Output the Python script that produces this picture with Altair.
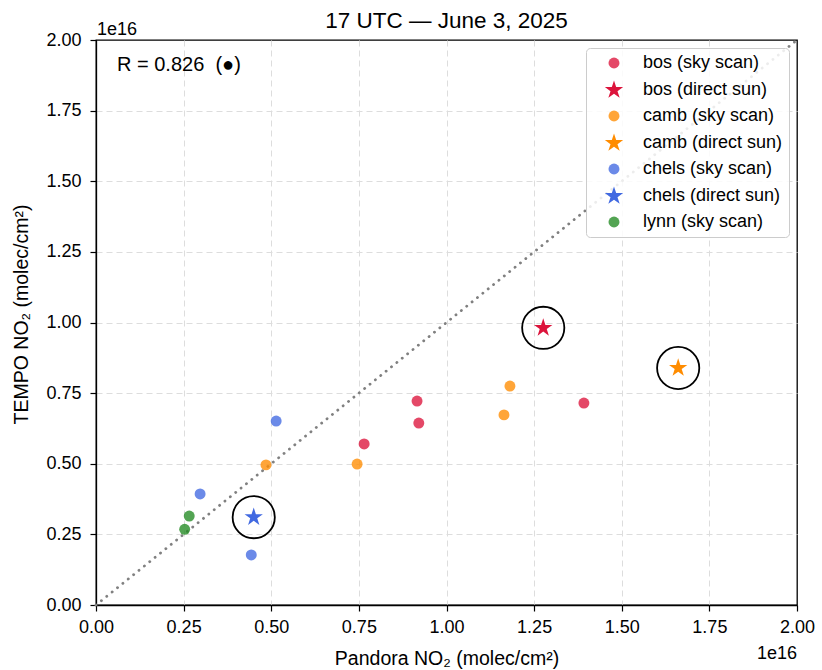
import altair as alt
import pandas as pd

SCALE = 1e16

STAR = ("M0,-1L0.2245,-0.309L0.9511,-0.309L0.3633,0.118L0.5878,0.809L0,0.382"
        "L-0.5878,0.809L-0.3633,0.118L-0.9511,-0.309L-0.2245,-0.309Z")

labels = ["bos (sky scan)", "bos (direct sun)", "camb (sky scan)", "camb (direct sun)",
          "chels (sky scan)", "chels (direct sun)", "lynn (sky scan)"]
colors = ["#DC143C", "#DC143C", "#FF8C00", "#FF8C00", "#4169E1", "#4169E1", "#228B22"]
shapes = ["circle", STAR, "circle", STAR, "circle", STAR, "circle"]
sizes = [120, 370, 120, 370, 120, 370, 120]
opacities = [0.78, 1.0, 0.78, 1.0, 0.78, 1.0, 0.78]

bos_sky_x = [0.765, 0.916, 0.921, 1.392]
bos_sky_y = [0.570, 0.722, 0.644, 0.715]
bos_sun_x = [1.276]
bos_sun_y = [0.981]
camb_sky_x = [0.485, 0.745, 1.164, 1.181]
camb_sky_y = [0.496, 0.499, 0.673, 0.775]
camb_sun_x = [1.661]
camb_sun_y = [0.839]
chels_sky_x = [0.514, 0.297, 0.443]
chels_sky_y = [0.651, 0.393, 0.177]
chels_sun_x = [0.450]
chels_sun_y = [0.311]
lynn_sky_x = [0.266, 0.253]
lynn_sky_y = [0.315, 0.268]

series = [
    (labels[0], bos_sky_x, bos_sky_y),
    (labels[1], bos_sun_x, bos_sun_y),
    (labels[2], camb_sky_x, camb_sky_y),
    (labels[3], camb_sun_x, camb_sun_y),
    (labels[4], chels_sky_x, chels_sky_y),
    (labels[5], chels_sun_x, chels_sun_y),
    (labels[6], lynn_sky_x, lynn_sky_y),
]

rows = []
for i, (lab, xs, ys) in enumerate(series):
    for xv, yv in zip(xs, ys):
        rows.append({"label": lab, "order": i, "x": xv * SCALE, "y": yv * SCALE,
                     "sun": "direct" in lab})
df = pd.DataFrame(rows)
stars = df[df["sun"]].reset_index(drop=True)

line_df = pd.DataFrame({"x": [0, 2 * SCALE], "y": [0, 2 * SCALE]})

ticks = [v * SCALE for v in [0, 0.25, 0.5, 0.75, 1.0, 1.25, 1.5, 1.75, 2.0]]
FONT = "Liberation Sans"

edge_test = "datum.value <= 0 || datum.value >= 2e16"
grid_op = {"condition": {"test": edge_test, "value": 0}, "value": 1}

xscale = alt.Scale(domain=[0, 2 * SCALE], nice=False)
yscale = alt.Scale(domain=[0, 2 * SCALE], nice=False)

xaxis = alt.Axis(values=ticks, labelExpr="format(datum.value/1e16, '.2f')",
                 title="Pandora NO₂ (molec/cm²)", grid=True, gridOpacity=grid_op,
                 labelFlush=False)
yaxis = alt.Axis(values=ticks, labelExpr="format(datum.value/1e16, '.2f')",
                 title="TEMPO NO₂ (molec/cm²)", grid=True, gridOpacity=grid_op,
                 labelFlush=False, titleY=274)

X = alt.X("x:Q", scale=xscale, axis=xaxis)
Y = alt.Y("y:Q", scale=yscale, axis=yaxis)

diag = alt.Chart(line_df).mark_line(color="#808080", strokeWidth=2.8, strokeDash=[0.1, 6.8],
                                    strokeCap="round").encode(x=X, y=Y)

leg = alt.Legend(title=None)
pts = alt.Chart(df).mark_point(filled=True, strokeWidth=0).encode(
    x=X, y=Y,
    color=alt.Color("label:N", scale=alt.Scale(domain=labels, range=colors), legend=leg),
    shape=alt.Shape("label:N", scale=alt.Scale(domain=labels, range=shapes), legend=leg),
    size=alt.Size("label:N", scale=alt.Scale(type="ordinal", domain=labels, range=sizes),
                  legend=leg),
    opacity=alt.Opacity("label:N",
                        scale=alt.Scale(type="ordinal", domain=labels, range=opacities),
                        legend=leg),
    order=alt.Order("order:Q"),
)

rings = alt.Chart(stars).mark_point(shape="circle", filled=False, color="black",
                                    strokeWidth=1.8, size=1780, opacity=1).encode(x=X, y=Y)

rtext = alt.Chart(pd.DataFrame({"t": ["R = 0.826\u00a0\u00a0(●)"]})).mark_text(
    align="left", baseline="middle", fontSize=20, font=FONT, color="black"
).encode(x=alt.value(21), y=alt.value(25), text="t:N")

exp_top = alt.Chart(pd.DataFrame({"t": ["1e16"]})).mark_text(
    align="left", baseline="alphabetic", fontSize=18, font=FONT, color="black"
).encode(x=alt.value(1), y=alt.value(-5), text="t:N")

exp_bot = alt.Chart(pd.DataFrame({"t": ["1e16"]})).mark_text(
    align="right", baseline="alphabetic", fontSize=18, font=FONT, color="black"
).encode(x=alt.value(701), y=alt.value(619), text="t:N")

chart = alt.layer(diag, pts, rings, rtext, exp_top, exp_bot).properties(
    width=701, height=565,
    title=alt.TitleParams("17 UTC — June 3, 2025", fontSize=22.5, font=FONT,
                          fontWeight="normal", anchor="middle", offset=-11, color="black"),
    autosize=alt.AutoSizeParams(type="none"),
    padding={"left": 96, "top": 40, "right": 25, "bottom": 65},
).configure_view(stroke="black", strokeWidth=1.3).configure_axis(
    labelFont=FONT, titleFont=FONT, labelFontSize=18, titleFontSize=19.5,
    titleFontWeight="normal", labelColor="black", titleColor="black",
    domainColor="black", domainWidth=1.3, tickColor="black", tickSize=6, tickWidth=1.2,
    gridColor="#dddddd", gridDash=[6, 4], gridWidth=1,
).configure_axisX(titlePadding=13, labelPadding=7).configure_axisY(
    titlePadding=14, labelPadding=9).configure_legend(
    orient="top-right", offset=8, padding=6, strokeColor="#cccccc",
    fillColor="rgba(255,255,255,0.85)",
    cornerRadius=4, labelFont=FONT, labelFontSize=18, labelColor="black",
    rowPadding=8, labelOffset=19, symbolOffset=12, symbolStrokeWidth=0, labelLimit=300,
)

chart.save("out.html", embed_options={"renderer": "svg", "actions": False})
